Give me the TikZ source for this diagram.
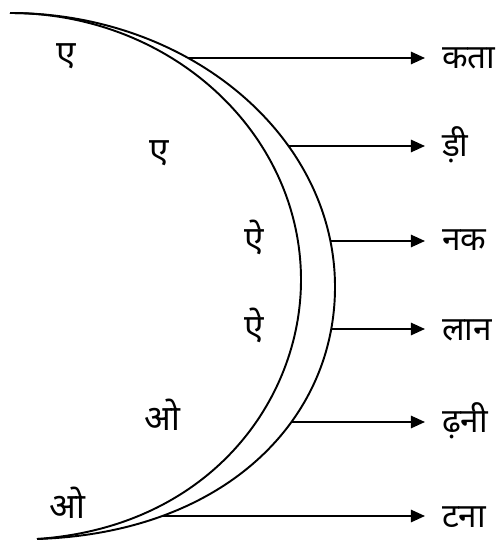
\documentclass[tikz,border=0pt]{standalone}
\usepackage{fontspec}
\newfontfamily\deva[Script=Devanagari]{Noto Sans}
\usetikzlibrary{arrows.meta}

\begin{document}
\begin{tikzpicture}[x=0.02cm, y=-0.02cm,
        vowel/.style={
            inner sep=0pt,
            font=\deva\fontsize{20}{24}\selectfont
        },
        word/.style={
            anchor=base west,
            inner xsep=9.5pt,
            inner ysep=0pt,
            font=\deva\fontsize{19}{23}\selectfont
        },
        rim/.style={
            line width=1.1pt
        },
        link/.style={
            -{Triangle[length=8pt, width=7pt]},
            line width=1.1pt
        }
    ]
        \useasboundingbox (0,0) rectangle (499,540);

        % the two rims of the crescent
        \draw [rim] (10,13) .. controls (171,13) and (301,133) .. (301,280)
                            .. controls (301,400) and (210,527) .. (37,539);
        \draw [rim] (10,13) .. controls (189,13) and (335,136) .. (335,287)
                            .. controls (335,420) and (225,533) .. (37,539);

        \node (e1) [vowel] at (66,56) {ए};
        \node (e2) [vowel] at (159,153) {ए};
        \node (ai1) [vowel] at (254,237) {ऐ};
        \node (ai2) [vowel] at (254,325) {ऐ};
        \node (o1) [vowel] at (162,415) {ओ};
        \node (o2) [vowel] at (67,503) {ओ};

        \node (kata) [word] at (425,69) {कता};
        \node (di) [word] at (425,157) {ड़ी};
        \node (nak) [word] at (425,251) {नक};
        \node (lan) [word] at (425,340) {लान};
        \node (dhani) [word] at (425,432) {ढ़नी};
        \node (tana) [word] at (425,527) {टना};

        % arrow starts on the outer rim
        \coordinate (s1) at (189,58);
        \coordinate (s2) at (289,146);
        \coordinate (s3) at (331,241);
        \coordinate (s4) at (331,329);
        \coordinate (s5) at (291,422);
        \coordinate (s6) at (163,516);

        \draw [link] (s1) -- (s1 -| kata.west);
        \draw [link] (s2) -- (s2 -| di.west);
        \draw [link] (s3) -- (s3 -| nak.west);
        \draw [link] (s4) -- (s4 -| lan.west);
        \draw [link] (s5) -- (s5 -| dhani.west);
        \draw [link] (s6) -- (s6 -| tana.west);
    \end{tikzpicture}
\end{document}
